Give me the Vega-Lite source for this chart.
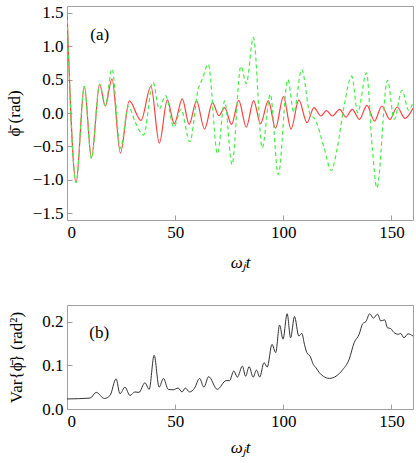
{
  "$schema": "https://vega.github.io/schema/vega-lite/v6.json",
  "padding": {"left": 4, "top": 3, "right": 1, "bottom": 4},
  "background": "white",
  "spacing": 85,
  "bounds": "flush",
  "config": {
    "font": "Liberation Serif, serif",
    "view": {"stroke": "#a0a0a0", "strokeWidth": 1},
    "text": {"font": "Liberation Serif, serif"},
    "axis": {
      "labelFont": "Liberation Serif, serif", "labelFontSize": 17, "labelColor": "black",
      "titleFont": "Liberation Serif, serif", "titleFontSize": 17, "titleFontWeight": "normal", "titleColor": "black",
      "domain": false, "grid": false, "tickColor": "#a0a0a0", "tickSize": -5, "labelPadding": 9
    }
  },
  "datasets": {
    "solid": [
      {"t":0,"v":1.5},{"t":4.2,"v":-1.04},{"t":8.0,"v":0.40},{"t":11.3,"v":-0.67},{"t":15.1,"v":0.43},{"t":17.7,"v":0.105},{"t":20.8,"v":0.51},{"t":24.7,"v":-0.60},{"t":28.8,"v":0.18},{"t":34.2,"v":-0.11},{"t":38.8,"v":0.40},{"t":42.7,"v":-0.45},{"t":46.4,"v":0.195},{"t":49.6,"v":-0.16},{"t":53.3,"v":0.21},{"t":56.5,"v":-0.17},{"t":59.9,"v":0.18},{"t":63.6,"v":-0.24},{"t":67.3,"v":0.155},{"t":70.2,"v":-0.04},{"t":72.9,"v":0.08},{"t":76.1,"v":-0.17},{"t":79.4,"v":0.19},{"t":82.9,"v":-0.21},{"t":86.3,"v":0.185},{"t":89.5,"v":-0.16},{"t":93.1,"v":0.185},{"t":96.4,"v":-0.225},{"t":100.1,"v":0.245},{"t":103.6,"v":-0.24},{"t":107.2,"v":0.195},{"t":111.0,"v":-0.145},{"t":114.2,"v":0.08},{"t":117.4,"v":-0.045},{"t":120.0,"v":0.035},{"t":122.7,"v":-0.045},{"t":126.1,"v":0.055},{"t":129.0,"v":-0.06},{"t":131.9,"v":0.055},{"t":135.2,"v":-0.095},{"t":138.7,"v":0.115},{"t":142.2,"v":-0.12},{"t":145.6,"v":0.105},{"t":149.3,"v":-0.095},{"t":152.7,"v":0.09},{"t":156.3,"v":-0.08},{"t":160,"v":0.07}
    ],
    "dashed": [
      {"t":0,"v":1.5},{"t":4.2,"v":-1.04},{"t":8.0,"v":0.40},{"t":11.3,"v":-0.68},{"t":15.1,"v":0.43},{"t":17.7,"v":0.11},{"t":20.8,"v":0.66},{"t":24.7,"v":-0.53},{"t":28.4,"v":0.10},{"t":31.6,"v":-0.14},{"t":35.4,"v":-0.33},{"t":39.8,"v":0.46},{"t":42.6,"v":0.06},{"t":45.6,"v":0.26},{"t":49.4,"v":-0.21},{"t":52.7,"v":0.055},{"t":56.8,"v":-0.43},{"t":60.7,"v":0.36},{"t":62.5,"v":0.50},{"t":65.3,"v":0.73},{"t":69.6,"v":-0.61},{"t":72.9,"v":0.18},{"t":76.3,"v":-0.77},{"t":80.4,"v":0.70},{"t":82.9,"v":0.44},{"t":86.2,"v":1.13},{"t":90.3,"v":-0.52},{"t":94.0,"v":0.28},{"t":97.7,"v":-0.92},{"t":102.1,"v":0.50},{"t":104.9,"v":0.01},{"t":108.5,"v":0.65},{"t":112.5,"v":-0.03},{"t":114.5,"v":-0.08},{"t":118.9,"v":-0.52},{"t":122.2,"v":-0.86},{"t":125.0,"v":-0.52},{"t":128.0,"v":0.08},{"t":131.7,"v":0.55},{"t":134.4,"v":0.005},{"t":138.5,"v":0.60},{"t":141.2,"v":-0.53},{"t":143.3,"v":-1.12},{"t":148.2,"v":0.49},{"t":151.3,"v":-0.095},{"t":154.9,"v":0.34},{"t":158.0,"v":0.04},{"t":160,"v":0.16}
    ],
    "variance": [
      {"t":0,"v":0.023},{"t":10.7,"v":0.025},{"t":13.5,"v":0.038},{"t":17.3,"v":0.024},{"t":19.9,"v":0.031},{"t":22.7,"v":0.069},{"t":24.5,"v":0.035},{"t":26.8,"v":0.050},{"t":29.1,"v":0.031},{"t":31.4,"v":0.039},{"t":33.3,"v":0.038},{"t":36.0,"v":0.060},{"t":38.0,"v":0.045},{"t":40.3,"v":0.123},{"t":42.6,"v":0.050},{"t":44.6,"v":0.070},{"t":46.8,"v":0.045},{"t":49.1,"v":0.044},{"t":51.4,"v":0.048},{"t":53.2,"v":0.039},{"t":54.7,"v":0.048},{"t":56.7,"v":0.039},{"t":59.0,"v":0.048},{"t":61.3,"v":0.070},{"t":63.3,"v":0.050},{"t":65.5,"v":0.074},{"t":69.5,"v":0.045},{"t":73.6,"v":0.065},{"t":75.2,"v":0.065},{"t":77.1,"v":0.087},{"t":78.8,"v":0.073},{"t":81.1,"v":0.098},{"t":82.6,"v":0.075},{"t":84.2,"v":0.097},{"t":86.1,"v":0.073},{"t":87.6,"v":0.089},{"t":89.1,"v":0.073},{"t":91.1,"v":0.106},{"t":92.6,"v":0.096},{"t":94.8,"v":0.148},{"t":96.5,"v":0.129},{"t":98.3,"v":0.192},{"t":99.9,"v":0.160},{"t":101.8,"v":0.218},{"t":103.4,"v":0.163},{"t":105.2,"v":0.2115},{"t":107.2,"v":0.167},{"t":108.6,"v":0.173},{"t":109.8,"v":0.148},{"t":110.9,"v":0.129},{"t":112.4,"v":0.121},{"t":113.9,"v":0.102},{"t":115.2,"v":0.094},{"t":116.7,"v":0.083},{"t":118.5,"v":0.075},{"t":121.3,"v":0.070},{"t":124.4,"v":0.075},{"t":127.5,"v":0.090},{"t":130.5,"v":0.114},{"t":132.8,"v":0.152},{"t":135.1,"v":0.171},{"t":136.7,"v":0.195},{"t":138.2,"v":0.200},{"t":140.0,"v":0.218},{"t":141.7,"v":0.208},{"t":143.6,"v":0.217},{"t":145.1,"v":0.2016},{"t":146.9,"v":0.204},{"t":148.2,"v":0.186},{"t":149.7,"v":0.184},{"t":151.2,"v":0.175},{"t":153.2,"v":0.171},{"t":154.3,"v":0.173},{"t":155.8,"v":0.163},{"t":157.7,"v":0.172},{"t":160,"v":0.167}
    ],
    "labelA": [{"t":15.1,"v":1.17,"label":"(a)"}],
    "labelB": [{"t":14.9,"v":0.174,"label":"(b)"}]
  },
  "vconcat": [
    {
      "width": 346,
      "height": 214,
      "encoding": {
        "x": {"field":"t","type":"quantitative","scale":{"domain":[0,160],"nice":false,"zero":false},
              "axis":{"values":[0,50,100,150],"title":"ωⱼt","titleFontStyle":"italic","titlePadding":14}},
        "y": {"field":"v","type":"quantitative","scale":{"domain":[-1.6,1.6],"nice":false,"zero":false},
              "axis":{"values":[-1.5,-1,-0.5,0,0.5,1,1.5],"format":".1f","title":"ϕ̄  (rad)","titlePadding":9}}
      },
      "layer": [
        {"data":{"name":"solid"},"mark":{"type":"line","color":"#ff4040","strokeWidth":1.2,"interpolate":"monotone","clip":true}},
        {"data":{"name":"dashed"},"mark":{"type":"line","color":"#44ee44","strokeWidth":1.2,"strokeDash":[4,3],"interpolate":"monotone","clip":true}},
        {"data":{"name":"labelA"},"mark":{"type":"text","fontSize":17,"color":"black"},"encoding":{"text":{"field":"label"}}}
      ]
    },
    {
      "width": 346,
      "height": 104,
      "encoding": {
        "x": {"field":"t","type":"quantitative","scale":{"domain":[0,160],"nice":false,"zero":false},
              "axis":{"values":[0,50,100,150],"title":"ωⱼt","titleFontStyle":"italic","titlePadding":10}},
        "y": {"field":"v","type":"quantitative","scale":{"domain":[0,0.238],"nice":false,"zero":false},
              "axis":{"values":[0,0.1,0.2],"format":".1f","title":"Var{ϕ̄}  (rad²)","titlePadding":16}}
      },
      "layer": [
        {"data":{"name":"variance"},"mark":{"type":"line","color":"#333333","strokeWidth":1,"interpolate":"monotone","clip":true}},
        {"data":{"name":"labelB"},"mark":{"type":"text","fontSize":17,"color":"black"},"encoding":{"text":{"field":"label"}}}
      ]
    }
  ]
}
